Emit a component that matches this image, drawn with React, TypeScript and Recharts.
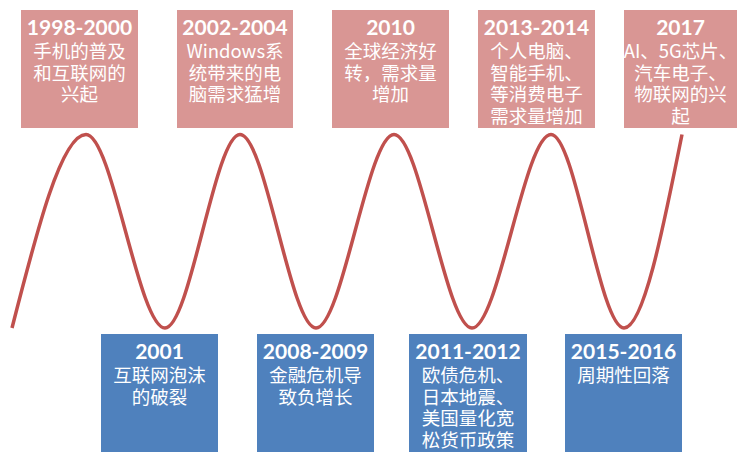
import { LineChart, Line, XAxis, YAxis, ReferenceArea } from 'recharts';

// wave turning points: horizontal position (px) and cycle level (0 = trough, 100 = peak)
const wavePos = [12, 86, 165, 240, 316, 394, 472, 551, 624, 682];
const waveLevel = [0, 100, 0, 100, 0, 100, 0, 100, 0, 100];

const topTitles = ['1998-2000', '2002-2004', '2010', '2013-2014', '2017'];
const topLines = [
  ['手机的普及', '和互联网的', '兴起'],
  ['Windows系', '统带来的电', '脑需求猛增'],
  ['全球经济好', '转，需求量', '增加'],
  ['个人电脑、', '智能手机、', '等消费电子', '需求量增加'],
  ['AI、5G芯片、', '汽车电子、', '物联网的兴', '起'],
];

const bottomTitles = ['2001', '2008-2009', '2011-2012', '2015-2016'];
const bottomLines = [
  ['互联网泡沫', '的破裂'],
  ['金融危机导', '致负增长'],
  ['欧债危机、', '日本地震、', '美国量化宽', '松货币政策'],
  ['周期性回落'],
];

// box layout (px)
const topBoxX = [[21, 138], [177, 293], [332, 449], [478, 595], [624, 737]];
const bottomBoxX = [[101, 218], [257, 374], [409, 527], [565, 682]];
const TOP_Y: [number, number] = [10, 128];
const BOTTOM_Y: [number, number] = [334, 452];

const W = 737;
const H = 452;
const TROUGH_PX = 328;
const PX_PER_UNIT = 1.935;
const toLevel = (py: number) => (TROUGH_PX - py) / PX_PER_UNIT;
const Y_DOMAIN: [number, number] = [toLevel(H), toLevel(0)];

const waveData = wavePos.map((pos, i) => ({ pos, level: waveLevel[i] }));

const TITLE_FONT = "Lato, 'Noto Sans CJK SC', sans-serif";
const BODY_FONT = "'Noto Sans CJK SC', 'Noto Sans', sans-serif";

// one multi-line text block per box: bold year, then the wrapped description
function BoxText({ viewBox, title, lines, fallback }: any) {
  const vb = viewBox && viewBox.width ? viewBox : fallback;
  const cx = vb.x + vb.width / 2;
  const top = vb.y;
  return (
    <text textAnchor="middle" dominantBaseline="central" fill="#fff">
      <tspan x={cx} y={top + 16} fontFamily={TITLE_FONT} fontWeight={700} fontSize={21}>
        {title}
      </tspan>
      {lines.map((l: string, i: number) => (
        <tspan key={i} x={cx} y={top + 40 + i * 21.5} fontFamily={BODY_FONT} fontSize={18.5}>
          {l}
        </tspan>
      ))}
    </text>
  );
}

export default function App() {
  return (
    <div style={{ position: 'absolute', left: 0, top: 0, width: W, height: H, background: '#fff' }}>
      <LineChart width={W} height={H} data={waveData} margin={{ top: 0, right: 0, bottom: 0, left: 0 }}>
        <XAxis dataKey="pos" type="number" domain={[0, W]} allowDataOverflow hide />
        <YAxis type="number" domain={Y_DOMAIN} allowDataOverflow hide />
        {topBoxX.map(([x1, x2], i) => (
          <ReferenceArea
            key={`t${i}`}
            x1={x1}
            x2={x2}
            y1={toLevel(TOP_Y[1])}
            y2={toLevel(TOP_Y[0])}
            fill="#D99694"
            fillOpacity={1}
            stroke="none"
            ifOverflow="visible"
            label={(p: any) => (
              <BoxText
                viewBox={p && p.viewBox}
                title={topTitles[i]}
                lines={topLines[i]}
                fallback={{ x: x1, y: TOP_Y[0], width: x2 - x1 }}
              />
            )}
          />
        ))}
        {bottomBoxX.map(([x1, x2], i) => (
          <ReferenceArea
            key={`b${i}`}
            x1={x1}
            x2={x2}
            y1={toLevel(BOTTOM_Y[1])}
            y2={toLevel(BOTTOM_Y[0])}
            fill="#4F81BD"
            fillOpacity={1}
            stroke="none"
            ifOverflow="visible"
            label={(p: any) => (
              <BoxText
                viewBox={p && p.viewBox}
                title={bottomTitles[i]}
                lines={bottomLines[i]}
                fallback={{ x: x1, y: BOTTOM_Y[0], width: x2 - x1 }}
              />
            )}
          />
        ))}
        <Line
          dataKey="level"
          type="monotone"
          stroke="#C0504D"
          strokeWidth={3.5}
          dot={false}
          activeDot={false}
          isAnimationActive={false}
        />
      </LineChart>
    </div>
  );
}
